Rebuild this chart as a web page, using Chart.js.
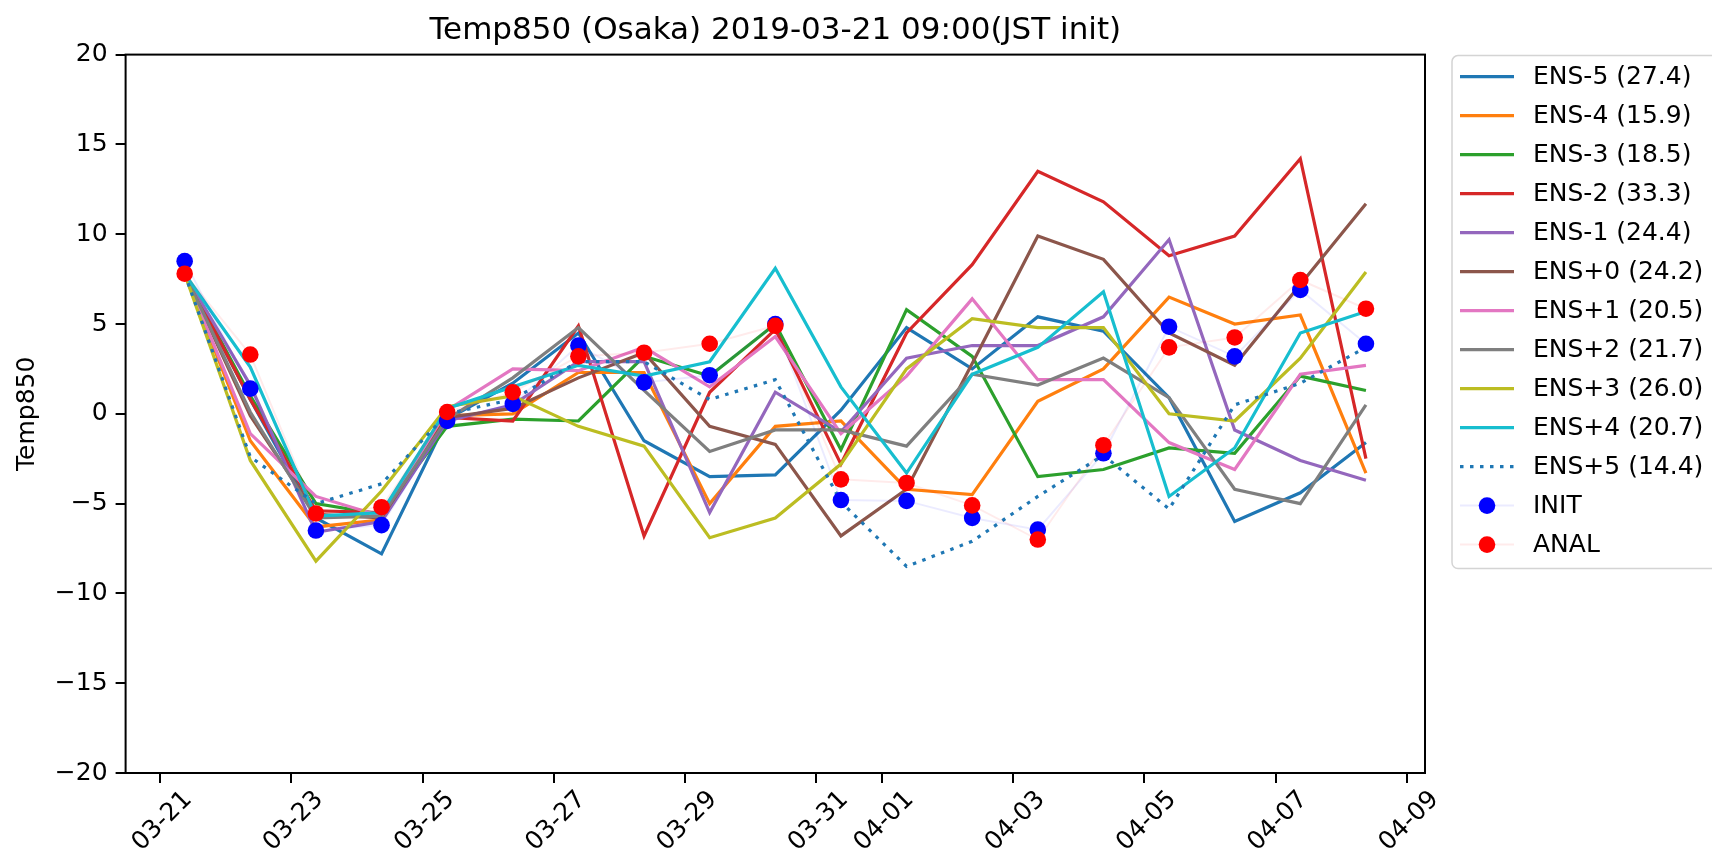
<!DOCTYPE html>
<html>
<head>
<meta charset="utf-8">
<title>Temp850 (Osaka)</title>
<script src="https://cdn.jsdelivr.net/npm/chart.js@4/dist/chart.umd.min.js"></script>
<style>
  html, body { margin: 0; padding: 0; background: #fff; }
  #wrap { width: 1712px; height: 857px; }
</style>
</head>
<body>
<div id="wrap"><canvas id="chart" width="1712" height="857"></canvas></div>
<script>
// valid times (JST 09:00 each day)
const validDays = ['03-21','03-22','03-23','03-24','03-25','03-26','03-27','03-28','03-29','03-30',
                   '03-31','04-01','04-02','04-03','04-04','04-05','04-06','04-07','04-08'];
const tickLabels = ['03-21','03-23','03-25','03-27','03-29','03-31','04-01','04-03','04-05','04-07','04-09'];

const ensM5 = [7.8, 0.8, -5.8, -7.8, -0.3, 1.7, 4.5, -1.5, -3.5, -3.4, 0.2, 4.8, 2.5, 5.4, 4.6, 0.9, -6.0, -4.4, -1.6];
const ensM4 = [7.8, -1.5, -6.3, -5.9, -0.1, 0.0, 2.3, 2.3, -5.0, -0.7, -0.4, -4.2, -4.5, 0.7, 2.5, 6.5, 5.0, 5.5, -3.3];
const ensM3 = [7.8, 1.0, -5.0, -5.6, -0.7, -0.3, -0.4, 3.2, 2.1, 5.0, -2.0, 5.8, 3.2, -3.5, -3.1, -1.9, -2.2, 2.1, 1.3];
const ensM2 = [7.8, 0.8, -5.4, -5.5, -0.2, -0.4, 4.9, -6.8, 1.2, 4.7, -2.8, 4.5, 8.3, 13.5, 11.8, 8.8, 9.9, 14.2, -2.5];
const ensM1 = [7.8, 1.6, -6.6, -6.0, -0.4, 0.5, 2.9, 2.9, -5.5, 1.2, -1.0, 3.1, 3.8, 3.8, 5.4, 9.7, -0.9, -2.6, -3.7];
const ensP0 = [7.8, -0.1, -5.6, -5.8, -0.2, 0.3, 2.0, 3.4, -0.7, -1.7, -6.8, -4.2, 2.8, 9.9, 8.6, 4.5, 2.7, 7.2, 11.7];
const ensP1 = [7.8, -1.1, -4.6, -5.7, 0.2, 2.5, 2.4, 3.7, 1.5, 4.3, -1.1, 2.1, 6.4, 1.9, 1.9, -1.6, -3.1, 2.2, 2.7];
const ensP2 = [7.8, 0.1, -5.8, -5.7, -0.3, 2.0, 4.8, 1.3, -2.1, -0.9, -0.9, -1.8, 2.2, 1.6, 3.1, 0.9, -4.2, -5.0, 0.5];
const ensP3 = [7.8, -2.6, -8.2, -4.3, 0.4, 1.0, -0.7, -1.8, -6.9, -5.8, -2.8, 2.5, 5.3, 4.8, 4.8, 0.0, -0.4, 3.1, 7.9];
const ensP4 = [7.8, 2.6, -5.7, -5.5, 0.3, 1.5, 2.7, 2.1, 2.9, 8.1, 1.5, -3.3, 2.2, 3.7, 6.8, -4.6, -1.9, 4.5, 5.7];
const ensP5 = [7.8, -2.4, -5.0, -3.9, 0.0, 0.8, 2.9, 2.9, 0.8, 1.9, -4.9, -8.5, -7.1, -4.6, -2.3, -5.3, 0.5, 1.7, 3.7];
const initVals = [8.5, 1.4, -6.5, -6.2, -0.4, 0.55, 3.8, 1.75, 2.15, 5.0, -4.8, -4.85, -5.8, -6.45, -2.2, 4.85, 3.2, 6.9, 3.9];
const analVals = [7.8, 3.3, -5.55, -5.2, 0.1, 1.2, 3.2, 3.4, 3.9, 4.9, -3.65, -3.85, -5.1, -7.0, -1.75, 3.7, 4.25, 7.45, 5.85];

const ensLabels = ['ENS-5 (27.4)','ENS-4 (15.9)','ENS-3 (18.5)','ENS-2 (33.3)','ENS-1 (24.4)','ENS+0 (24.2)',
                   'ENS+1 (20.5)','ENS+2 (21.7)','ENS+3 (26.0)','ENS+4 (20.7)','ENS+5 (14.4)'];
const ensColors = ['#1f77b4','#ff7f0e','#2ca02c','#d62728','#9467bd','#8c564b','#e377c2','#7f7f7f','#bcbd22','#17becf','#1f77b4'];
const ensSeries = [ensM5, ensM4, ensM3, ensM2, ensM1, ensP0, ensP1, ensP2, ensP3, ensP4, ensP5];
const chartTitle = 'Temp850 (Osaka) 2019-03-21 09:00(JST init)';

// days since 2019-03-21 00:00
function dayOffset(md, hour) {
    const [m, d] = md.split('-').map(Number);
    return (Date.UTC(2019, m - 1, d, hour) - Date.UTC(2019, 2, 21)) / 864e5;
}
const xs = validDays.map(d => dayOffset(d, 9));
const tickDays = tickLabels.map(d => dayOffset(d, 0));
const toPoints = vals => vals.map((v, i) => ({ x: xs[i], y: v }));

const FONT = 'DejaVu Sans';
Chart.defaults.font.family = FONT;
Chart.defaults.color = '#000';

const datasets = [];
ensSeries.forEach((vals, k) => {
    datasets.push({
        label: ensLabels[k],
        data: toPoints(vals),
        borderColor: ensColors[k],
        backgroundColor: ensColors[k],
        borderWidth: 3.2,
        borderDash: k === 10 ? [3.5, 6.5] : [],
        pointRadius: 0,
        tension: 0,
        order: 20 - k
    });
});
datasets.push({
    label: 'INIT', data: toPoints(initVals),
    borderColor: 'rgba(0,0,255,0.08)', borderWidth: 2,
    pointRadius: 8.3, pointBackgroundColor: '#0000ff', pointBorderColor: '#0000ff', pointBorderWidth: 0,
    order: 2
});
datasets.push({
    label: 'ANAL', data: toPoints(analVals),
    borderColor: 'rgba(255,0,0,0.08)', borderWidth: 2,
    pointRadius: 8.3, pointBackgroundColor: '#ff0000', pointBorderColor: '#ff0000', pointBorderWidth: 0,
    order: 1
});

// axes frame, title over the axes, legend box like matplotlib
const frameLegend = {
    id: 'frameLegend',
    afterDraw(chart) {
        const { ctx, chartArea: a } = chart;
        ctx.save();
        ctx.strokeStyle = '#000';
        ctx.lineWidth = 2;
        ctx.strokeRect(a.left, a.top, a.right - a.left, a.bottom - a.top);

        ctx.fillStyle = '#000';
        ctx.font = '31px "' + FONT + '"';
        ctx.textAlign = 'center';
        ctx.textBaseline = 'middle';
        ctx.fillText(chartTitle, (a.left + a.right) / 2, a.top - 24);

        const bx = a.right + 27, by = a.top + 1, bw = 270, bh = 513;
        ctx.beginPath();
        ctx.roundRect(bx, by, bw, bh, 6);
        ctx.fillStyle = 'rgba(255,255,255,0.8)';
        ctx.fill();
        ctx.strokeStyle = '#d4d4d4';
        ctx.lineWidth = 1.5;
        ctx.stroke();

        ctx.font = '25px "' + FONT + '"';
        ctx.textAlign = 'left';
        chart.data.datasets.forEach((ds, k) => {
            const y = by + 21 + k * 39;
            const x0 = bx + 8, x1 = bx + 62;
            ctx.beginPath();
            ctx.moveTo(x0, y);
            ctx.lineTo(x1, y);
            ctx.strokeStyle = ds.borderColor;
            ctx.lineWidth = ds.borderWidth;
            ctx.setLineDash(ds.borderDash || []);
            ctx.stroke();
            ctx.setLineDash([]);
            if (ds.pointRadius) {
                ctx.beginPath();
                ctx.arc((x0 + x1) / 2, y, ds.pointRadius, 0, Math.PI * 2);
                ctx.fillStyle = ds.pointBackgroundColor;
                ctx.fill();
            }
            ctx.fillStyle = '#000';
            ctx.fillText(ds.label, bx + 81, y + 1);
        });
        ctx.restore();
    }
};

new Chart(document.getElementById('chart').getContext('2d'), {
    type: 'line',
    data: { datasets },
    options: {
        responsive: false,
        animation: false,
        devicePixelRatio: 1,
        layout: { padding: { left: 0, right: 287, top: 54.6, bottom: 0 } },
        plugins: {
            legend: { display: false },
            tooltip: { enabled: false },
            title: { display: false }
        },
        scales: {
            x: {
                type: 'linear',
                min: -0.525,
                max: 19.275,
                afterBuildTicks: s => { s.ticks = tickDays.map(v => ({ value: v })); },
                afterFit: s => { s.height = 84; },
                ticks: {
                    autoSkip: false,
                    maxRotation: 45,
                    minRotation: 45,
                    labelOffset: 28,
                    padding: 2,
                    font: { size: 25 },
                    color: '#000',
                    callback: (v, i) => tickLabels[i]
                },
                grid: { drawOnChartArea: false, drawTicks: true, tickLength: 10, color: '#000', lineWidth: 2 },
                border: { display: false }
            },
            y: {
                min: -20,
                max: 20,
                afterFit: s => { s.width = 125.6; },
                ticks: {
                    stepSize: 5,
                    padding: 8,
                    font: { size: 25 },
                    color: '#000',
                    callback: v => String(v).replace('-', '\u2212')
                },
                grid: { drawOnChartArea: false, drawTicks: true, tickLength: 10, color: '#000', lineWidth: 2 },
                border: { display: false },
                title: {
                    display: true,
                    text: 'Temp850',
                    font: { size: 25 },
                    color: '#000',
                    padding: { top: 12, bottom: 0 }
                }
            }
        }
    },
    plugins: [frameLegend]
});
</script>
</body>
</html>
